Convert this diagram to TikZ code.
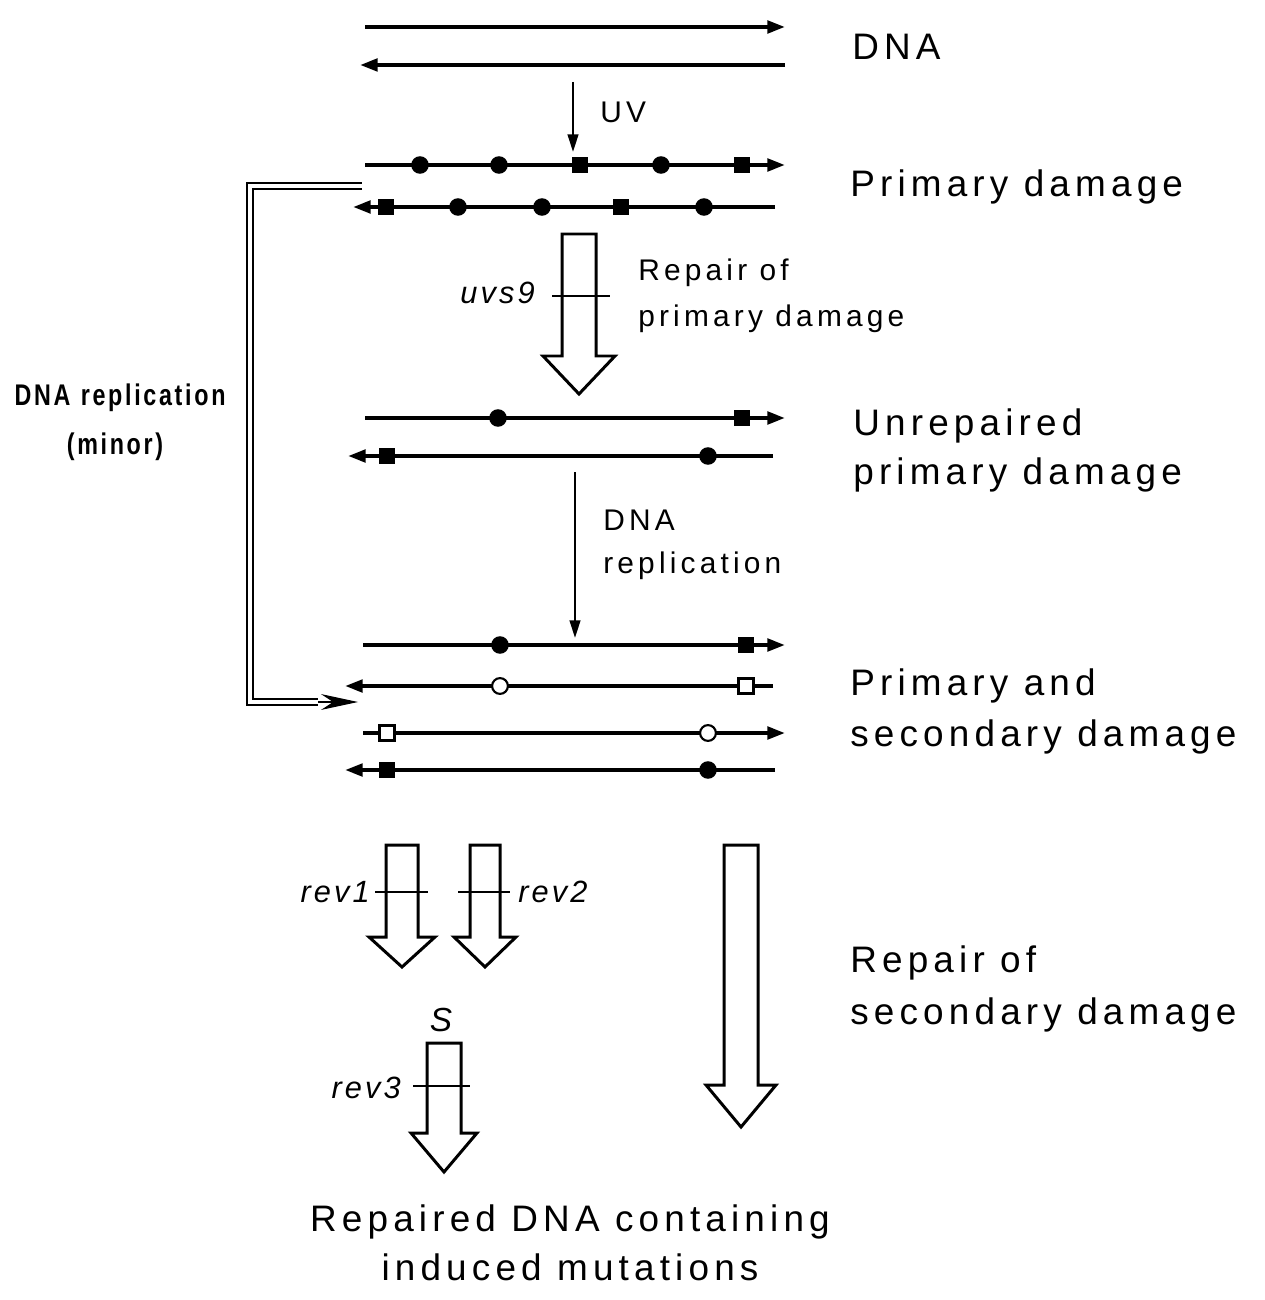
\documentclass[tikz,border=0pt]{standalone}
\usepackage{fontspec}
\newfontfamily\labfont[LetterSpace=14]{Liberation Sans}
\newfontfamily\genefont[LetterSpace=10]{Liberation Sans}
\newfontfamily\sidefont[FakeStretch=0.78,LetterSpace=9]{Liberation Sans}
\usetikzlibrary{arrows.meta, positioning}

\tikzset{
  strand/.style={line width=2.2pt},
  tipped/.style={strand, -{Triangle[length=10pt,width=7pt]}},
  fdot/.style={circle, fill=black, inner sep=0pt, minimum size=10pt},
  fsq/.style={rectangle, fill=black, inner sep=0pt, minimum size=9pt},
  odot/.style={circle, draw, line width=1.2pt, fill=white, inner sep=0pt, minimum size=9pt},
  osq/.style={rectangle, draw, line width=1.2pt, fill=white, inner sep=0pt, minimum size=8.5pt},
  biglab/.style={font=\labfont\fontsize{21}{25}\selectfont, anchor=base west, inner sep=0pt},
  midlab/.style={font=\labfont\fontsize{17}{20}\selectfont, anchor=base west, inner sep=0pt},
  genelab/.style={font=\genefont\itshape\fontsize{17.5}{20}\selectfont, inner sep=0pt},
  sidelab/.style={font=\sidefont\bfseries\fontsize{17}{20}\selectfont, anchor=base, inner sep=0pt},
  fat/.style={draw, line width=1.7pt, line join=miter, fill=white},
  bar/.style={line width=1.1pt},
  flow/.style={line width=1.4pt, -{Triangle[length=10pt,width=6pt]}},
}

% hollow arrow: centre x, top, head base, tip, half shaft, half head
\newcommand{\fatarrow}[6]{%
  \draw[fat] (#1-#5,#2) -- (#1-#5,#3) -- (#1-#6,#3) -- (#1,#4)
    -- (#1+#6,#3) -- (#1+#5,#3) -- (#1+#5,#2) -- cycle;}

\begin{document}
\begin{tikzpicture}[x=0.02cm, y=-0.02cm]
        \useasboundingbox (0,0) rectangle (1264,1300);

        % Intact DNA
        \coordinate (d1l) at (365,27);  \coordinate (d1r) at (785,27);
        \coordinate (d2l) at (360,65);  \coordinate (d2r) at (785,65);
        \draw[tipped] (d1l) -- (d1r);
        \draw[tipped] (d2r) -- (d2l);
        \node[biglab] (dnalab) at (852,60) {DNA};

        % UV step
        \coordinate (uvtop) at (573,82); \coordinate (uvend) at (573,152);
        \draw[flow] (uvtop) -- (uvend);
        \node[midlab] (uvlab) at (600,123) {UV};

        % Primary damage
        \coordinate (p1l) at (365,165); \coordinate (p1r) at (785,165);
        \coordinate (p2l) at (353,207); \coordinate (p2r) at (775,207);
        \draw[tipped] (p1l) -- (p1r);
        \draw[tipped] (p2r) -- (p2l);
        \node[fdot] (p1a) at (420,165) {};
        \node[fdot] (p1b) at (499,165) {};
        \node[fsq]  (p1c) at (580,165) {};
        \node[fdot] (p1d) at (661,165) {};
        \node[fsq]  (p1e) at (742,165) {};
        \node[fsq]  (p2a) at (386,207) {};
        \node[fdot] (p2b) at (458,207) {};
        \node[fdot] (p2c) at (542,207) {};
        \node[fsq]  (p2d) at (621,207) {};
        \node[fdot] (p2e) at (704,207) {};
        \node[biglab] (primlab) at (850,197) {Primary damage};

        % Repair of primary damage
        \fatarrow{579}{234}{356}{394}{17}{36}
        \coordinate (uvsbl) at (552,296); \coordinate (uvsbr) at (610,296);
        \draw[bar] (uvsbl) -- (uvsbr);
        \node[genelab, anchor=base east] (uvslab) at (535,304) {uvs9};
        \node[midlab] (rep1a) at (638,281) {Repair of};
        \node[midlab] (rep1b) at (638,327) {primary damage};

        % Unrepaired primary damage
        \coordinate (u1l) at (365,418); \coordinate (u1r) at (785,418);
        \coordinate (u2l) at (348,456); \coordinate (u2r) at (773,456);
        \draw[tipped] (u1l) -- (u1r);
        \draw[tipped] (u2r) -- (u2l);
        \node[fdot] (u1a) at (498,418) {};
        \node[fsq]  (u1b) at (742,418) {};
        \node[fsq]  (u2a) at (387,456) {};
        \node[fdot] (u2b) at (708,456) {};
        \node[biglab] (unrepa) at (853,435) {Unrepaired};
        \node[biglab] (unrepb) at (853,484) {primary damage};

        % Replication step
        \coordinate (reptop) at (575,472); \coordinate (repend) at (575,638);
        \draw[flow] (reptop) -- (repend);
        \node[midlab] (repla) at (603,530) {DNA};
        \node[midlab] (replb) at (603,573) {replication};

        % Primary and secondary damage
        \coordinate (q1l) at (363,645); \coordinate (q1r) at (785,645);
        \coordinate (q2l) at (345,686); \coordinate (q2r) at (773,686);
        \coordinate (q3l) at (363,733); \coordinate (q3r) at (785,733);
        \coordinate (q4l) at (345,770); \coordinate (q4r) at (775,770);
        \draw[tipped] (q1l) -- (q1r);
        \draw[tipped] (q2r) -- (q2l);
        \draw[tipped] (q3l) -- (q3r);
        \draw[tipped] (q4r) -- (q4l);
        \node[fdot] (q1a) at (500,645) {};
        \node[fsq]  (q1b) at (746,645) {};
        \node[odot] (q2a) at (500,686) {};
        \node[osq]  (q2b) at (746,686) {};
        \node[osq]  (q3a) at (387,733) {};
        \node[odot] (q3b) at (708,733) {};
        \node[fsq]  (q4a) at (387,770) {};
        \node[fdot] (q4b) at (708,770) {};
        \node[biglab] (secla) at (850,695) {Primary and};
        \node[biglab] (seclb) at (850,746) {secondary damage};

        % Minor replication bypass
        \coordinate (brtop) at (362,186); \coordinate (brcor) at (250,186);
        \coordinate (brbot) at (318,702); \coordinate (brtip) at (358,702);
        \draw[double, double distance=2.3pt, line width=0.9pt] (brtop) -- (brcor) |- (brbot);
        \draw[line width=0.6pt, -{Stealth[length=21pt,width=9pt]}] (brbot) -- (brtip);
        \node[sidelab] (minora) at (120,405) {DNA\hspace{0.35em}replication};
        \node[sidelab] (minorb) at (115,454) {(minor)};

        % Repair of secondary damage
        \fatarrow{402}{845}{937}{967}{16}{33}
        \fatarrow{485}{845}{937}{967}{15}{31}
        \fatarrow{444}{1043}{1133}{1172}{17}{33}
        \fatarrow{741}{845}{1085}{1127}{17}{35}
        \coordinate (r1bl) at (375,892); \coordinate (r1br) at (428,892);
        \coordinate (r2bl) at (458,892); \coordinate (r2br) at (510,892);
        \coordinate (r3bl) at (413,1086); \coordinate (r3br) at (470,1086);
        \draw[bar] (r1bl) -- (r1br);
        \draw[bar] (r2bl) -- (r2br);
        \draw[bar] (r3bl) -- (r3br);
        \node[genelab, anchor=base east] (rev1lab) at (370,902) {rev1};
        \node[genelab, anchor=base west] (rev2lab) at (518,902) {rev2};
        \node[genelab, anchor=base east] (rev3lab) at (401,1098) {rev3};
        \node[genelab, anchor=base, font=\genefont\itshape\fontsize{19}{22}\selectfont] (slab) at (441,1031) {S};
        \node[biglab] (rep2a) at (850,972) {Repair of};
        \node[biglab] (rep2b) at (850,1024) {secondary damage};

        % Outcome
        \node[biglab, anchor=base] (finala) at (570,1231) {Repaired DNA containing};
        \node[biglab, anchor=base] (finalb) at (570,1280) {induced mutations};
\end{tikzpicture}
\end{document}
